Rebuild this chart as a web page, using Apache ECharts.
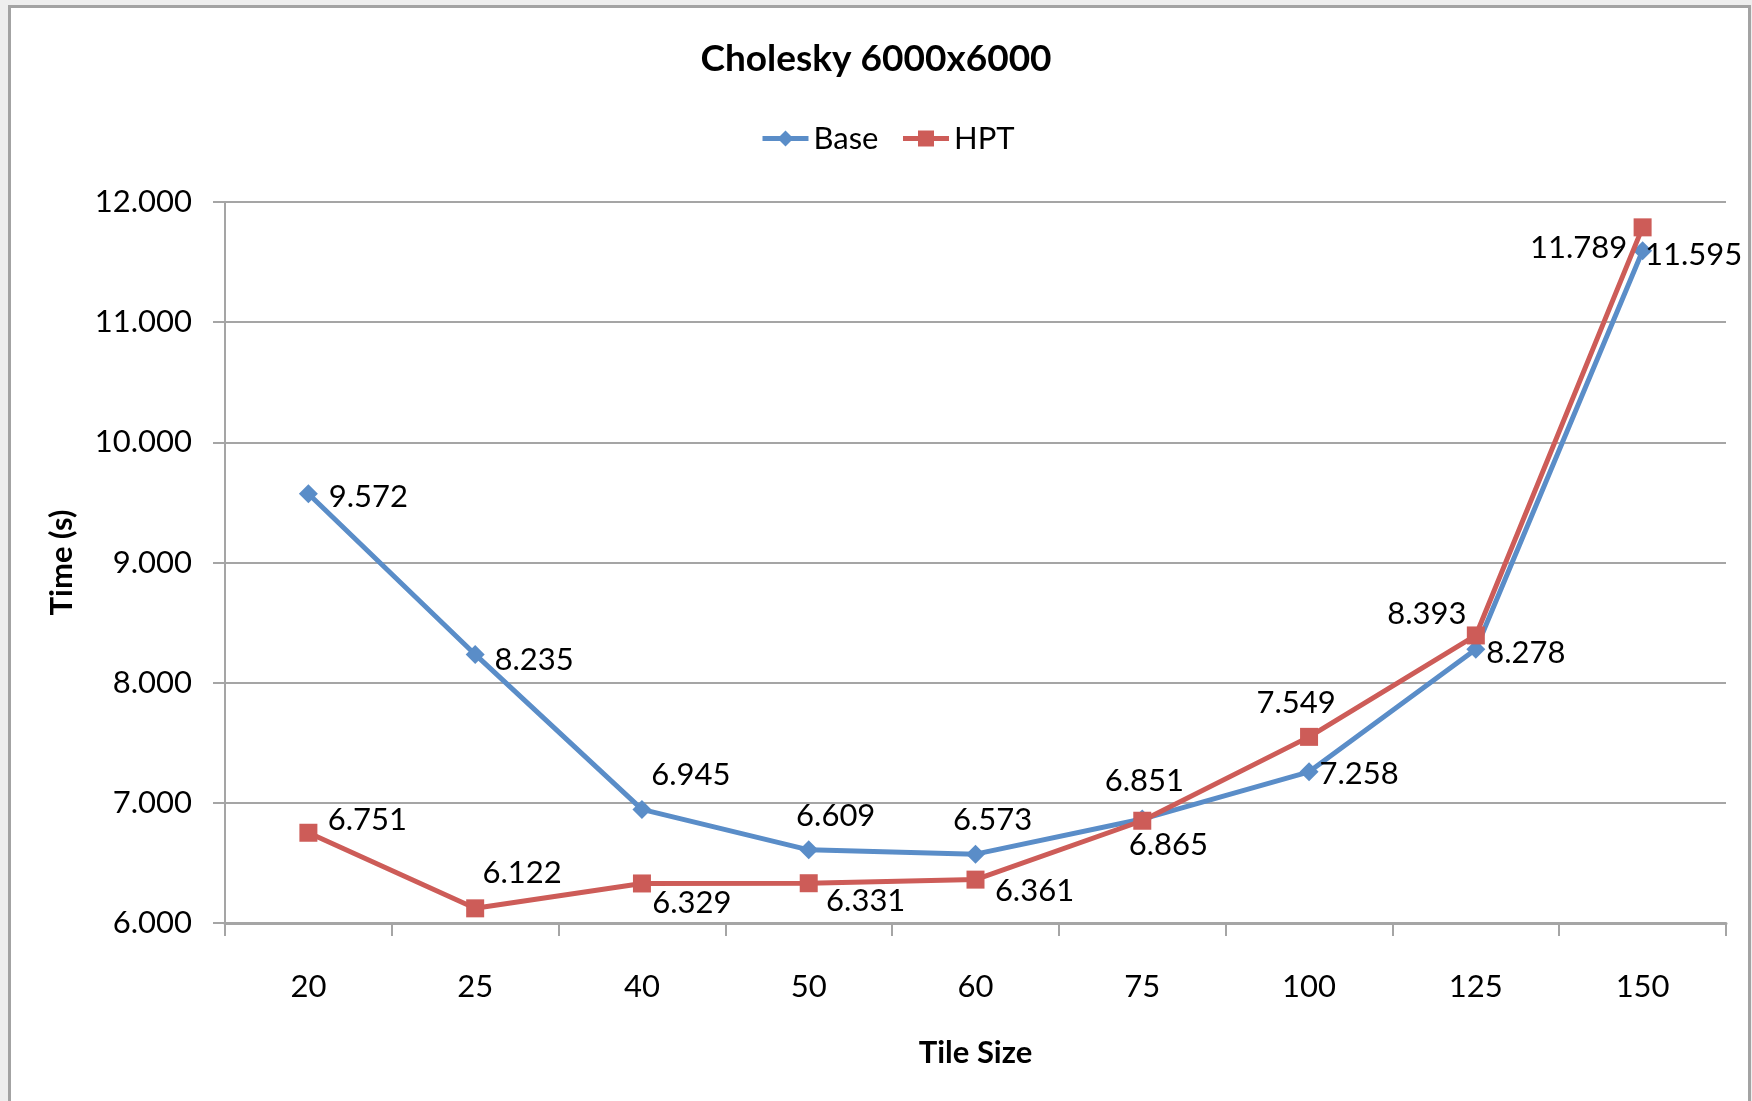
<!DOCTYPE html>
<html>
<head>
<meta charset="utf-8">
<script src="https://cdn.jsdelivr.net/npm/echarts@6/dist/echarts.min.js"></script>
<style>
  html, body { margin: 0; padding: 0; background: #eeeeee; overflow: hidden; }
  #frame { position: absolute; left: 8px; top: 5px; width: 1743px; height: 1200px;
           background: #ffffff; border: 3px solid #a3a3a3; box-sizing: border-box; }
  #chart { position: absolute; left: 0; top: 0; width: 1752px; height: 1101px; }
</style>
</head>
<body>
<div id="frame"></div>
<div id="chart"></div>
<script>
// Cholesky factorisation of a 6000x6000 matrix: run time per tile size
const tileSizes = ['20', '25', '40', '50', '60', '75', '100', '125', '150'];
const baseTimes = [9.572, 8.235, 6.945, 6.609, 6.573, 6.865, 7.258, 8.278, 11.595];
const hptTimes  = [6.751, 6.122, 6.329, 6.331, 6.361, 6.851, 7.549, 8.393, 11.789];
const timeAxisMin = 6;
const timeAxisMax = 12;
const timeAxisStep = 1;

// where each value label sits relative to its marker (px)
const baseLabelOffsets = [[60, 3], [59, 6], [49, -34], [27, -34], [17, -34], [26, 26], [50, 2], [50, 4], [51, 4]];
const hptLabelOffsets  = [[59, -13], [47, -35], [50, 20], [57, 18], [59, 11], [2, -40], [-13, -34], [-49, -21], [-64, 21]];

const FONT = 'Lato';
const BLUE = '#5a8dc8';
const RED = '#cd5c58';
const GRAY = '#a5a5a5';

function withLabels(values, offsets) {
  return values.map((v, i) => ({
    value: v,
    label: { offset: offsets[i] }
  }));
}

const chart = echarts.init(document.getElementById('chart'), null, { renderer: 'canvas' });

chart.setOption({
  backgroundColor: 'transparent',
  animation: false,
  textStyle: { fontFamily: FONT },
  title: {
    text: 'Cholesky 6000x6000',
    left: 'center',
    top: 36,
    textStyle: { fontFamily: FONT, fontSize: 37, fontWeight: 'bold', color: '#000' }
  },
  legend: {
    top: 118,
    left: 755,
    itemWidth: 46,
    itemHeight: 20,
    itemGap: 22,
    lineStyle: { width: 5 },
    textStyle: { fontFamily: FONT, fontSize: 31, color: '#000' },
    data: ['Base', 'HPT']
  },
  grid: { left: 225, right: 26, top: 202, bottom: 178, containLabel: false },
  xAxis: {
    type: 'category',
    data: tileSizes,
    boundaryGap: true,
    name: 'Tile Size',
    nameLocation: 'middle',
    nameGap: 114,
    nameTextStyle: { fontFamily: FONT, fontSize: 31, fontWeight: 'bold', color: '#000' },
    axisLine: { lineStyle: { color: GRAY, width: 3 } },
    axisTick: { show: true, inside: false, length: 13, alignWithLabel: false, lineStyle: { color: GRAY, width: 2 } },
    axisLabel: { margin: 48, fontFamily: FONT, fontSize: 31, color: '#000' },
    splitLine: { show: false }
  },
  yAxis: {
    type: 'value',
    min: timeAxisMin,
    max: timeAxisMax,
    interval: timeAxisStep,
    name: 'Time (s)',
    nameLocation: 'middle',
    nameGap: 148,
    nameRotate: 90,
    nameTextStyle: { fontFamily: FONT, fontSize: 31, fontWeight: 'bold', color: '#000' },
    axisLine: { show: true, lineStyle: { color: GRAY, width: 2 } },
    axisTick: { show: true, inside: false, length: 12, lineStyle: { color: GRAY, width: 2 } },
    axisLabel: {
      margin: 33, fontFamily: FONT, fontSize: 31, color: '#000',
      formatter: v => v.toFixed(3)
    },
    splitLine: { show: true, lineStyle: { color: GRAY, width: 2 } }
  },
  series: [
    {
      name: 'Base',
      type: 'line',
      data: withLabels(baseTimes, baseLabelOffsets),
      symbol: 'diamond',
      symbolSize: 19,
      lineStyle: { color: BLUE, width: 5 },
      itemStyle: { color: BLUE },
      label: {
        show: true, position: 'inside',
        fontFamily: FONT, fontSize: 31, color: '#000',
        formatter: p => p.value.toFixed(3)
      },
      z: 3
    },
    {
      name: 'HPT',
      type: 'line',
      data: withLabels(hptTimes, hptLabelOffsets),
      symbol: 'rect',
      symbolSize: 18,
      lineStyle: { color: RED, width: 5 },
      itemStyle: { color: RED },
      label: {
        show: true, position: 'inside',
        fontFamily: FONT, fontSize: 31, color: '#000',
        formatter: p => p.value.toFixed(3)
      },
      z: 4
    }
  ]
});
</script>
</body>
</html>
